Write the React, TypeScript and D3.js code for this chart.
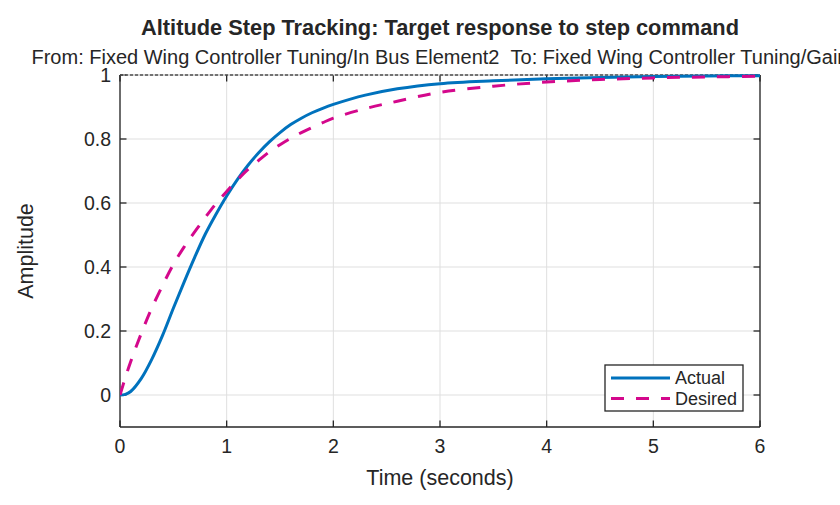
import * as d3 from "d3";

// sample times (s) and step-response amplitudes
const timeS = [0, 0.05, 0.1, 0.2, 0.3, 0.4, 0.5, 0.6, 0.7, 0.8, 0.9, 1.0, 1.1, 1.2, 1.3, 1.4, 1.5, 1.6, 1.7, 1.8, 1.9, 2.0, 2.3, 2.6, 3.0, 3.5, 4.0, 4.5, 5.0, 5.5, 6.0];
const actual = [0, 0.002, 0.011, 0.052, 0.113, 0.187, 0.271, 0.352, 0.43, 0.503, 0.565, 0.622, 0.673, 0.718, 0.757, 0.791, 0.82, 0.845, 0.865, 0.882, 0.896, 0.908, 0.937, 0.957, 0.973, 0.982, 0.988, 0.992, 0.995, 0.997, 0.998];
const desired = [0, 0.054, 0.104, 0.193, 0.273, 0.343, 0.408, 0.462, 0.51, 0.555, 0.598, 0.636, 0.672, 0.705, 0.733, 0.76, 0.782, 0.802, 0.82, 0.836, 0.851, 0.865, 0.895, 0.918, 0.946, 0.965, 0.978, 0.986, 0.991, 0.994, 0.996];

const xTicks = [0, 1, 2, 3, 4, 5, 6];
const yTicks = [0, 0.2, 0.4, 0.6, 0.8, 1];

const titleText = "Altitude Step Tracking: Target response to step command";
const subtitleText = "From: Fixed Wing Controller Tuning/In Bus Element2\u00a0\u00a0To: Fixed Wing Controller Tuning/Gain";

const seriesNames = ["Actual", "Desired"];

const width = 840;
const height = 505;
const marginLeft = 120;
const marginRight = 80;
const marginTop = 75;
const marginBottom = 78;

const ink = "#262626";
const gridColor = "#dfdfdf";
const blue = "#0072bd";
const magenta = "#d4088c";
const font = "'Liberation Sans', Arial, sans-serif";

export default function App() {
  const x = d3.scaleLinear().domain([0, 6]).range([marginLeft, width - marginRight]);
  const y = d3.scaleLinear().domain([-0.1, 1]).range([height - marginBottom, marginTop]);

  const line = d3
    .line<number>()
    .x((_d, i) => x(timeS[i]))
    .y((d) => y(d))
    .curve(d3.curveCatmullRom.alpha(0.5));

  const [x0, x1] = x.range();
  const y0 = y(-0.1);
  const y1 = y(1);
  const tick = 6.5;

  const legendX = 605;
  const legendY = 365;

  return (
    <div style={{ position: "fixed", left: 0, top: 0 }}>
      <svg width={width} height={height} style={{ display: "block", background: "#fff" }} fontFamily={font}>
        <defs>
          <clipPath id="plot-area">
            <rect x={x0} y={y1 - 2} width={x1 - x0} height={y0 - y1 + 2} />
          </clipPath>
        </defs>

        {/* grid */}
        <g stroke={gridColor} strokeWidth={1}>
          {xTicks.map((t) => (
            <line key={`gx${t}`} x1={x(t)} x2={x(t)} y1={y1} y2={y0} />
          ))}
          {yTicks.map((t) => (
            <line key={`gy${t}`} x1={x0} x2={x1} y1={y(t)} y2={y(t)} />
          ))}
        </g>

        {/* axes box + inward ticks */}
        <g stroke={ink} strokeWidth={1.3} fill="none">
          <line x1={x0} x2={x1} y1={y0} y2={y0} />
          <line x1={x0} x2={x0} y1={y1} y2={y0} />
          <line x1={x1} x2={x1} y1={y1} y2={y0} />
          {xTicks.map((t) => (
            <g key={`tx${t}`}>
              <line x1={x(t)} x2={x(t)} y1={y0} y2={y0 - tick} />
              <line x1={x(t)} x2={x(t)} y1={y1} y2={y1 + tick} />
            </g>
          ))}
          {yTicks.map((t) => (
            <g key={`ty${t}`}>
              <line x1={x0} x2={x0 + tick} y1={y(t)} y2={y(t)} />
              <line x1={x1} x2={x1 - tick} y1={y(t)} y2={y(t)} />
            </g>
          ))}
        </g>
        <line x1={x0} x2={x1} y1={y1} y2={y1} stroke="#bbbbbb" strokeWidth={1} />
        <line x1={x0} x2={x1} y1={y1} y2={y1} stroke="#111" strokeWidth={1} strokeDasharray="3 2" />

        {/* curves */}
        <g clipPath="url(#plot-area)" fill="none">
          <path d={line(actual) ?? ""} stroke={blue} strokeWidth={3} />
          <path d={line(desired) ?? ""} stroke={magenta} strokeWidth={3} strokeDasharray="13 12" />
        </g>

        {/* tick labels */}
        <g fill={ink} fontSize={19.5}>
          {xTicks.map((t) => (
            <text key={`lx${t}`} x={x(t)} y={y0 + 26} textAnchor="middle">
              {d3.format("d")(t)}
            </text>
          ))}
          {yTicks.map((t) => (
            <text key={`ly${t}`} x={x0 - 9} y={y(t) + 7} textAnchor="end">
              {t === 0 || t === 1 ? String(t) : d3.format(".1f")(t)}
            </text>
          ))}
        </g>

        {/* axis labels */}
        <text x={(x0 + x1) / 2} y={485} textAnchor="middle" fontSize={21.5} fill={ink}>
          Time (seconds)
        </text>
        <text
          transform={`translate(33,${(y0 + y1) / 2}) rotate(-90)`}
          textAnchor="middle"
          fontSize={21.5}
          fill={ink}
        >
          Amplitude
        </text>

        {/* titles */}
        <text x={(x0 + x1) / 2} y={35} textAnchor="middle" fontSize={21.8} fontWeight="bold" fill={ink}>
          {titleText}
        </text>
        <text x={(x0 + x1) / 2} y={64} textAnchor="middle" fontSize={20} fill={ink}>
          {subtitleText}
        </text>

        {/* legend */}
        <g>
          <rect x={legendX} y={legendY} width={138} height={46} fill="#fff" stroke={ink} strokeWidth={1.3} />
          {seriesNames.map((name, i) => (
            <g key={name}>
              <line
                x1={legendX + 6}
                x2={legendX + 65}
                y1={legendY + 13 + i * 20.5}
                y2={legendY + 13 + i * 20.5}
                stroke={i === 0 ? blue : magenta}
                strokeWidth={3}
                strokeDasharray={i === 0 ? undefined : "13 12"}
              />
              <text x={legendX + 70} y={legendY + 19 + i * 20.5} fontSize={18} fill={ink}>
                {name}
              </text>
            </g>
          ))}
        </g>
      </svg>
    </div>
  );
}
